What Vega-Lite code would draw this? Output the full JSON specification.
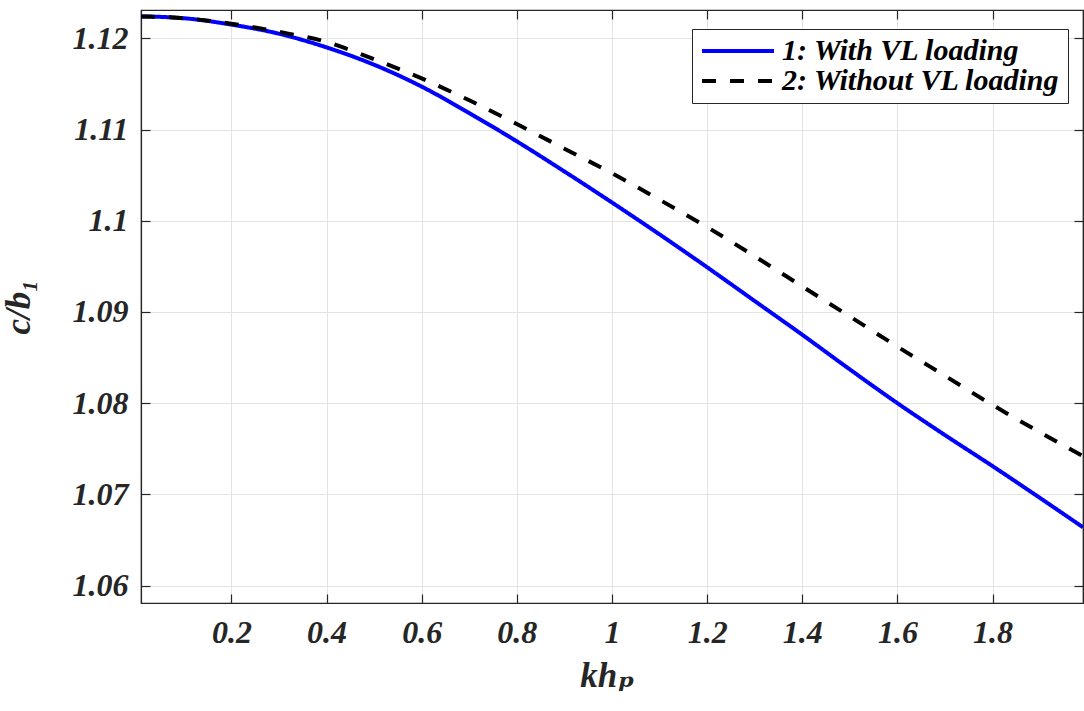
{
  "$schema": "https://vega.github.io/schema/vega-lite/v6.json",
  "width": 942,
  "height": 593,
  "autosize": {"type": "none"},
  "padding": {"left": 141, "top": 10, "right": 1, "bottom": 108},
  "background": "white",
  "config": {
    "view": {"stroke": "#262626", "strokeWidth": 1.2},
    "font": "'Liberation Serif', 'Times New Roman', Times, 'DejaVu Serif', serif",
    "axis": {
      "labelFont": "'Liberation Serif', 'Times New Roman', Times, 'DejaVu Serif', serif",
      "labelFontSize": 32,
      "labelFontWeight": "bold",
      "labelFontStyle": "italic",
      "labelColor": "#262626",
      "titleFont": "'Liberation Serif', 'Times New Roman', Times, 'DejaVu Serif', serif",
      "titleFontSize": 35,
      "titleFontWeight": "bold",
      "titleFontStyle": "italic",
      "titleColor": "#262626",
      "domainColor": "#262626",
      "domainWidth": 1.2,
      "tickColor": "#262626",
      "tickWidth": 1.2,
      "tickSize": -9,
      "gridColor": "#e3e3e3",
      "gridWidth": 1,
      "gridOpacity": 1
    },
    "legend": {
      "labelFont": "'Liberation Serif', 'Times New Roman', Times, 'DejaVu Serif', serif",
      "labelFontSize": 30,
      "labelFontWeight": "bold",
      "labelFontStyle": "italic",
      "labelColor": "#000000",
      "labelLimit": 0,
      "labelOffset": 53,
      "symbolType": "M-1,0H5",
      "symbolSize": 576,
      "symbolStrokeWidth": 4,
      "fillColor": "white",
      "strokeColor": "#262626",
      "padding": 7,
      "rowPadding": 0
    }
  },
  "data": {
    "values": [
      {"kh": 0.01, "c": 1.1224, "series": "1: With VL loading"},
      {"kh": 0.1, "c": 1.1222, "series": "1: With VL loading"},
      {"kh": 0.2, "c": 1.1215, "series": "1: With VL loading"},
      {"kh": 0.3, "c": 1.1205, "series": "1: With VL loading"},
      {"kh": 0.4, "c": 1.1190, "series": "1: With VL loading"},
      {"kh": 0.5, "c": 1.1171, "series": "1: With VL loading"},
      {"kh": 0.6, "c": 1.1147, "series": "1: With VL loading"},
      {"kh": 0.7, "c": 1.1118, "series": "1: With VL loading"},
      {"kh": 0.8, "c": 1.1087, "series": "1: With VL loading"},
      {"kh": 0.9, "c": 1.1054, "series": "1: With VL loading"},
      {"kh": 1.0, "c": 1.1020, "series": "1: With VL loading"},
      {"kh": 1.1, "c": 1.0985, "series": "1: With VL loading"},
      {"kh": 1.2, "c": 1.0949, "series": "1: With VL loading"},
      {"kh": 1.3, "c": 1.0912, "series": "1: With VL loading"},
      {"kh": 1.4, "c": 1.0875, "series": "1: With VL loading"},
      {"kh": 1.5, "c": 1.0837, "series": "1: With VL loading"},
      {"kh": 1.6, "c": 1.0800, "series": "1: With VL loading"},
      {"kh": 1.7, "c": 1.0765, "series": "1: With VL loading"},
      {"kh": 1.8, "c": 1.0731, "series": "1: With VL loading"},
      {"kh": 1.9, "c": 1.0696, "series": "1: With VL loading"},
      {"kh": 1.99, "c": 1.0664, "series": "1: With VL loading"},
      {"kh": 0.01, "c": 1.1224, "series": "2: Without VL loading"},
      {"kh": 0.1, "c": 1.1222, "series": "2: Without VL loading"},
      {"kh": 0.2, "c": 1.1216, "series": "2: Without VL loading"},
      {"kh": 0.3, "c": 1.1207, "series": "2: Without VL loading"},
      {"kh": 0.4, "c": 1.1196, "series": "2: Without VL loading"},
      {"kh": 0.5, "c": 1.1177, "series": "2: Without VL loading"},
      {"kh": 0.6, "c": 1.1156, "series": "2: Without VL loading"},
      {"kh": 0.7, "c": 1.1132, "series": "2: Without VL loading"},
      {"kh": 0.8, "c": 1.1106, "series": "2: Without VL loading"},
      {"kh": 0.9, "c": 1.1079, "series": "2: Without VL loading"},
      {"kh": 1.0, "c": 1.1052, "series": "2: Without VL loading"},
      {"kh": 1.1, "c": 1.1023, "series": "2: Without VL loading"},
      {"kh": 1.2, "c": 1.0993, "series": "2: Without VL loading"},
      {"kh": 1.3, "c": 1.0961, "series": "2: Without VL loading"},
      {"kh": 1.4, "c": 1.0928, "series": "2: Without VL loading"},
      {"kh": 1.5, "c": 1.0895, "series": "2: Without VL loading"},
      {"kh": 1.6, "c": 1.0862, "series": "2: Without VL loading"},
      {"kh": 1.7, "c": 1.0830, "series": "2: Without VL loading"},
      {"kh": 1.8, "c": 1.0798, "series": "2: Without VL loading"},
      {"kh": 1.9, "c": 1.0768, "series": "2: Without VL loading"},
      {"kh": 1.99, "c": 1.0742, "series": "2: Without VL loading"}
    ]
  },
  "layer": [
    {
      "mark": {"type": "line", "strokeWidth": 4, "clip": true, "interpolate": "monotone"},
      "encoding": {
        "x": {
          "field": "kh",
          "type": "quantitative",
          "scale": {"domain": [0.01, 1.99], "nice": false, "zero": false},
          "axis": {
            "orient": "bottom",
            "values": [0.2, 0.4, 0.6, 0.8, 1, 1.2, 1.4, 1.6, 1.8],
            "format": "~g",
            "grid": true,
            "labelPadding": 23,
            "title": "khₚ",
            "titleBaseline": "alphabetic",
            "titleAlign": "center",
            "titleX": 466,
            "titleY": 83
          }
        },
        "y": {
          "field": "c",
          "type": "quantitative",
          "scale": {"domain": [1.0581, 1.1231], "nice": false, "zero": false},
          "axis": {
            "orient": "left",
            "values": [1.06, 1.07, 1.08, 1.09, 1.1, 1.11, 1.12],
            "format": "~g",
            "grid": true,
            "labelPadding": 22,
            "title": "c/b₁",
            "titlePadding": 36
          }
        },
        "color": {
          "field": "series",
          "type": "nominal",
          "scale": {
            "domain": ["1: With VL loading", "2: Without VL loading"],
            "range": ["#0000ff", "#000000"]
          },
          "legend": {"title": null, "orient": "none", "legendX": 551, "legendY": 19}
        },
        "strokeDash": {
          "field": "series",
          "type": "nominal",
          "scale": {
            "domain": ["1: With VL loading", "2: Without VL loading"],
            "range": [[1, 0], [14, 14]]
          },
          "legend": {"title": null, "orient": "none", "legendX": 551, "legendY": 19}
        }
      }
    },
    {
      "mark": {"type": "line", "opacity": 0},
      "encoding": {
        "x": {
          "field": "kh",
          "type": "quantitative",
          "axis": {
            "orient": "top",
            "values": [0.2, 0.4, 0.6, 0.8, 1, 1.2, 1.4, 1.6, 1.8],
            "labels": false,
            "grid": false,
            "title": null
          }
        },
        "y": {
          "field": "c",
          "type": "quantitative",
          "axis": {
            "orient": "right",
            "values": [1.06, 1.07, 1.08, 1.09, 1.1, 1.11, 1.12],
            "labels": false,
            "grid": false,
            "title": null
          }
        }
      }
    }
  ],
  "resolve": {"axis": {"x": "independent", "y": "independent"}}
}
